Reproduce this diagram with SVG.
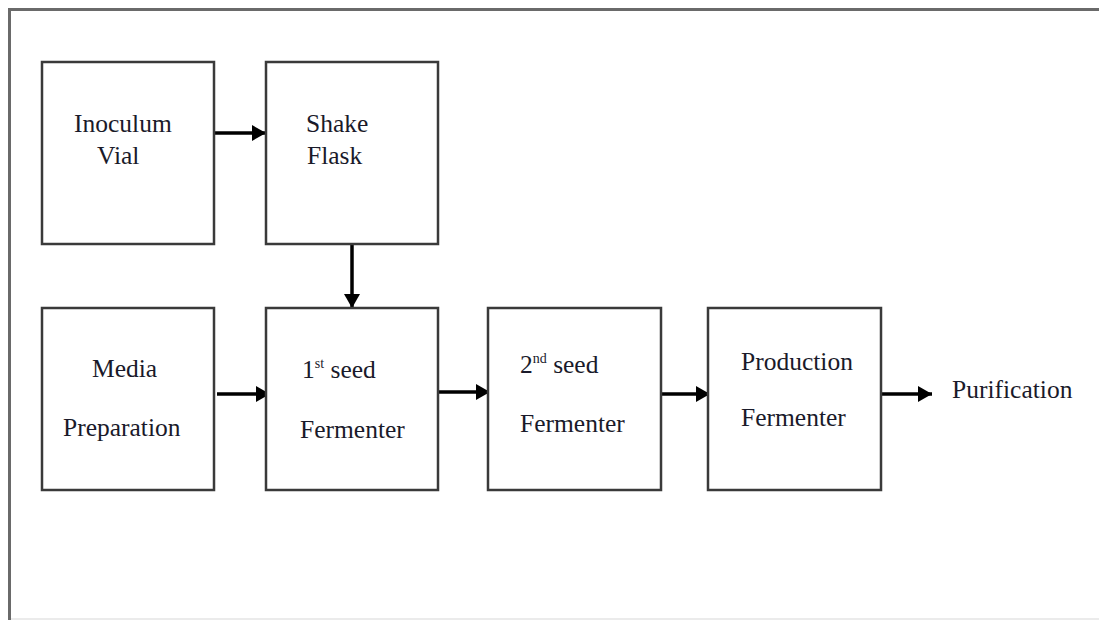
<svg xmlns="http://www.w3.org/2000/svg" width="1099" height="620" viewBox="0 0 1099 620">
<defs>
<style>
.box{fill:#fff;stroke:#3a3a3a;stroke-width:2.5}
.lbl{font-family:"Liberation Serif","Times New Roman",serif;font-size:25.5px;fill:#1a1a2a}
.sup{font-size:14px}
.conn{stroke:#000;stroke-width:3.5;fill:none}
.frame{stroke:#6a6a6a;stroke-width:3;fill:none}
</style>
<marker id="ah" markerUnits="userSpaceOnUse" markerWidth="16" markerHeight="18" refX="14" refY="8" orient="auto">
<path d="M0,0 L14,8 L0,16 Z" fill="#000"/>
</marker>
</defs>
<rect width="1099" height="620" fill="#fff"/>
<g id="frame">
<path class="frame" d="M9.5,620 V9.5 H1099"/>
<line x1="11" y1="619" x2="1099" y2="619" stroke="#e4e4e4" stroke-width="1.5"/>
</g>
<g id="connectors">
<line class="conn" x1="214" y1="133" x2="266" y2="133" marker-end="url(#ah)"/>
<line class="conn" x1="352" y1="244" x2="352" y2="308" marker-end="url(#ah)"/>
<line class="conn" x1="217" y1="394" x2="270" y2="394" marker-end="url(#ah)"/>
<line class="conn" x1="438" y1="392" x2="490" y2="392" marker-end="url(#ah)"/>
<line class="conn" x1="661" y1="394" x2="710" y2="394" marker-end="url(#ah)"/>
<line class="conn" x1="881" y1="394" x2="932" y2="394" marker-end="url(#ah)"/>
</g>
<g id="inoculum">
<rect class="box" x="42" y="62" width="172" height="182"/>
<text class="lbl" x="74" y="132">Inoculum</text>
<text class="lbl" x="97" y="164">Vial</text>
</g>
<g id="shake">
<rect class="box" x="266" y="62" width="172" height="182"/>
<text class="lbl" x="306" y="132">Shake</text>
<text class="lbl" x="307" y="164">Flask</text>
</g>
<g id="media">
<rect class="box" x="42" y="308" width="172" height="182"/>
<text class="lbl" x="92" y="377">Media</text>
<text class="lbl" x="63" y="436">Preparation</text>
</g>
<g id="seed1">
<rect class="box" x="266" y="308" width="172" height="182"/>
<text class="lbl" x="302" y="378">1<tspan class="sup" dy="-10">st</tspan><tspan dy="10"> seed</tspan></text>
<text class="lbl" x="300" y="438">Fermenter</text>
</g>
<g id="seed2">
<rect class="box" x="488" y="308" width="173" height="182"/>
<text class="lbl" x="520" y="373">2<tspan class="sup" dy="-10">nd</tspan><tspan dy="10"> seed</tspan></text>
<text class="lbl" x="520" y="432">Fermenter</text>
</g>
<g id="production">
<rect class="box" x="708" y="308" width="173" height="182"/>
<text class="lbl" x="741" y="370">Production</text>
<text class="lbl" x="741" y="426">Fermenter</text>
</g>
<g id="purification">
<text class="lbl" x="952" y="398">Purification</text>
</g>
</svg>
